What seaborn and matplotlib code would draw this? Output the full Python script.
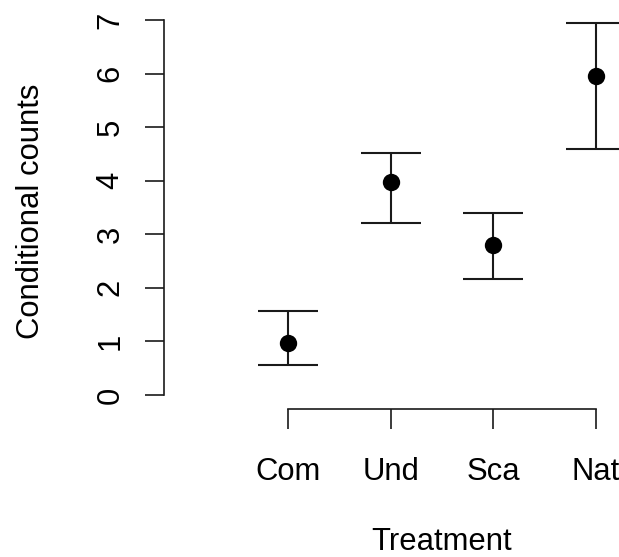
import matplotlib
matplotlib.use("Agg")
import matplotlib.pyplot as plt
import seaborn as sns
import pandas as pd
import numpy as np

treatments = ["Com", "Und", "Sca", "Nat"]
estimate = [0.97, 3.98, 2.80, 5.95]
lower = [0.56, 3.21, 2.16, 4.60]
upper = [1.57, 4.52, 3.40, 6.94]
yticks = [0, 1, 2, 3, 4, 5, 6, 7]

df = pd.DataFrame({"Treatment": treatments, "Count": estimate,
                   "lo": lower, "hi": upper})

sns.set_theme(style="ticks")
plt.rcParams["font.family"] = ["Liberation Sans", "DejaVu Sans"]

W, H = 619, 557
fig = plt.figure(figsize=(W / 100, H / 100), dpi=100)
ax = fig.add_axes([164 / W, (H - 409) / H, 455 / W, 399 / H])

col = "#1a1a1a"
yerr = np.array([df["Count"] - df["lo"], df["hi"] - df["Count"]])
ax.errorbar(df["Treatment"], df["Count"], yerr=yerr, fmt="none",
            ecolor=col, elinewidth=1.5, capsize=21.6, capthick=1.5, zorder=2)
sns.scatterplot(data=df, x="Treatment", y="Count", ax=ax, color="black",
                s=12.5 ** 2, edgecolor="black", linewidth=0, zorder=3)

ax.set_xlim(-1.207, 3.223)
ax.set_ylim(-0.261, 7.187)
ax.set_yticks(yticks)
ax.set_yticklabels([str(t) for t in yticks])

for s in ["top", "right"]:
    ax.spines[s].set_visible(False)
for s in ["left", "bottom"]:
    ax.spines[s].set_linewidth(1.2)
    ax.spines[s].set_color(col)
ax.spines["left"].set_bounds(0, 7)
ax.spines["bottom"].set_bounds(0, 3)

ax.tick_params(axis="x", direction="out", length=14.4, width=1.2, color=col,
               labelsize=22.3, pad=20, labelcolor="black")
ax.tick_params(axis="y", direction="out", length=13.7, width=1.2, color=col,
               labelsize=22.3, pad=14, labelcolor="black", labelrotation=90)
for lab in ax.get_yticklabels():
    lab.set_va("center")

ax.set_xlabel("Treatment", fontsize=22.3, color="black")
ax.set_ylabel("Conditional counts", fontsize=22.3, color="black")
ax.xaxis.label.set_va("center")
ax.yaxis.label.set_va("center")
ax.xaxis.set_label_coords(0.611, -0.334)
ax.yaxis.set_label_coords(-0.292, 0.496)

fig.savefig("out.png", dpi=100, facecolor="white")
